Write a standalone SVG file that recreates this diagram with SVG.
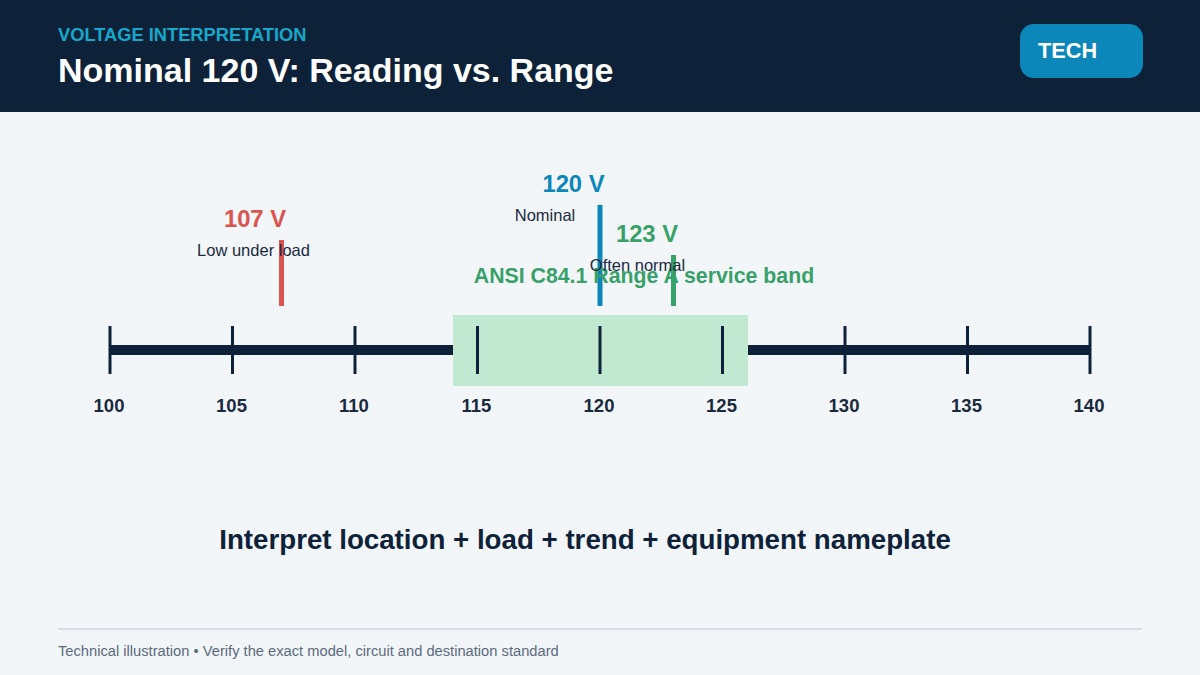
<svg xmlns="http://www.w3.org/2000/svg" width="1200" height="675" viewBox="0 0 1200 675">
<style>
text{font-family:"Liberation Sans",Arial,sans-serif}
.b{font-weight:bold}
.tick{stroke:#0d2239;stroke-width:3}
.tl{font-size:18.5px;font-weight:bold;fill:#1a2a3e;text-anchor:middle}
.sub{font-size:16.5px;fill:#1a2a3e;text-anchor:middle}
.val{font-size:23.8px;font-weight:bold;text-anchor:middle}
</style>
<rect width="1200" height="675" fill="#f3f6f9"/>
<g id="header">
<rect width="1200" height="112" fill="#0d2239"/>
<text x="58" y="41" class="b" font-size="18.3" fill="#17a8c9">VOLTAGE INTERPRETATION</text>
<text x="58" y="82" class="b" font-size="34" fill="#ffffff">Nominal 120 V: Reading vs. Range</text>
</g>
<g id="badge">
<rect x="1020" y="24" width="123" height="54" rx="14" fill="#0b87b9"/>
<text x="1038" y="58" class="b" font-size="21.7" fill="#ffffff">TECH</text>
</g>
<g id="band">
<rect x="453" y="315" width="295" height="71" fill="#c1e8d0"/>
</g>
<g id="axis">
<line x1="110" y1="350" x2="453" y2="350" stroke="#0d2239" stroke-width="10"/>
<line x1="748" y1="350" x2="1090" y2="350" stroke="#0d2239" stroke-width="10"/>
<line class="tick" x1="110" y1="326" x2="110" y2="374"/>
<line class="tick" x1="232.5" y1="326" x2="232.5" y2="374"/>
<line class="tick" x1="355" y1="326" x2="355" y2="374"/>
<line class="tick" x1="477.5" y1="326" x2="477.5" y2="374"/>
<line class="tick" x1="600" y1="326" x2="600" y2="374"/>
<line class="tick" x1="722.5" y1="326" x2="722.5" y2="374"/>
<line class="tick" x1="845" y1="326" x2="845" y2="374"/>
<line class="tick" x1="967.5" y1="326" x2="967.5" y2="374"/>
<line class="tick" x1="1090" y1="326" x2="1090" y2="374"/>
<text class="tl" x="109" y="412">100</text>
<text class="tl" x="231.5" y="412">105</text>
<text class="tl" x="354" y="412">110</text>
<text class="tl" x="476.5" y="412">115</text>
<text class="tl" x="599" y="412">120</text>
<text class="tl" x="721.5" y="412">125</text>
<text class="tl" x="844" y="412">130</text>
<text class="tl" x="966.5" y="412">135</text>
<text class="tl" x="1089" y="412">140</text>
</g>
<g id="marker-107">
<line x1="281.5" y1="240" x2="281.5" y2="306" stroke="#d9534f" stroke-width="5"/>
<text class="val" x="255" y="227" fill="#d9534f">107 V</text>
<text class="sub" x="253.5" y="256">Low under load</text>
</g>
<g id="marker-120">
<line x1="600" y1="205" x2="600" y2="306" stroke="#0b87b9" stroke-width="5"/>
<text class="val" x="573.5" y="192" fill="#0b87b9">120 V</text>
<text class="sub" x="545" y="221">Nominal</text>
</g>
<g id="band-label">
<text x="644" y="283" class="b" font-size="21.3" fill="#38a169" text-anchor="middle">ANSI C84.1 Range A service band</text>
</g>
<g id="marker-123">
<line x1="673.5" y1="255" x2="673.5" y2="306" stroke="#38a169" stroke-width="5"/>
<text class="val" x="647" y="242" fill="#38a169">123 V</text>
<text class="sub" x="637.5" y="271">Often normal</text>
</g>
<g id="summary">
<text x="585" y="549" class="b" font-size="27.7" fill="#0d2239" text-anchor="middle">Interpret location + load + trend + equipment nameplate</text>
</g>
<g id="footer">
<line x1="58" y1="629" x2="1142" y2="629" stroke="#d5dde5" stroke-width="2"/>
<text x="58" y="656" font-size="14.7" fill="#5a6b7d">Technical illustration • Verify the exact model, circuit and destination standard</text>
</g>
</svg>
